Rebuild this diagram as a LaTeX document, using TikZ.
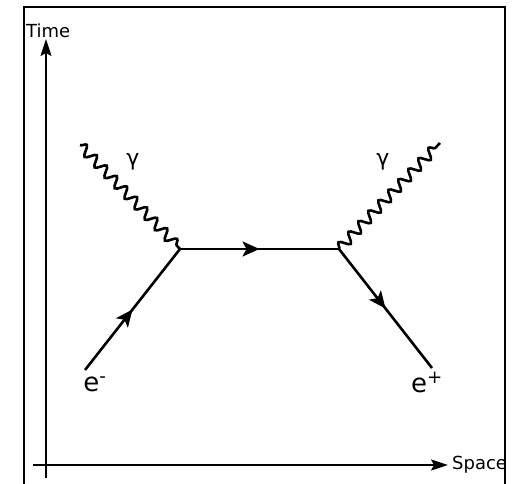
\documentclass[tikz,border=0pt]{standalone}
\usepackage{fontspec}
\setmainfont{DejaVu Sans}
\usetikzlibrary{decorations.pathmorphing,decorations.markings,arrows.meta}
\begin{document}
\begin{tikzpicture}[x=1pt,y=-1pt,
  frame/.style={line width=2.4pt},
  axis/.style={line width=1.7pt,-{Stealth[length=17pt,width=11pt,inset=3pt]}},
  fermion/.style={line width=2.6pt,postaction={decorate},
    decoration={markings,mark=at position 0.5 with {\arrow{Stealth[length=17pt,width=15pt,inset=4pt]}}}},
  photon/.style={line width=2.6pt,decorate,decoration={snake,segment length=14.5pt,amplitude=5pt}},
  lbl/.style={inner sep=0pt,font=\fontsize{18}{20}\selectfont},
  plbl/.style={inner sep=0pt,font=\fontsize{26}{28}\selectfont}]
\useasboundingbox (0,0) rectangle (515,484);
\draw[frame] (24,484) -- (24,7) -- (505,7) -- (505,484);
\coordinate (t0) at (46,478);
\coordinate (t1) at (46,39);
\coordinate (s0) at (33,465);
\coordinate (s1) at (448,465);
\draw[axis] (t0) -- (t1);
\draw[axis] (s0) -- (s1);
\node[lbl,anchor=west] (time) at (26,31) {Time};
\node[lbl,anchor=west] (space) at (452,465) {Space};
\coordinate (vl) at (180,249);
\coordinate (vr) at (339,249);
\coordinate (ein) at (85,370);
\coordinate (eout) at (432,368);
\coordinate (gl) at (80,145);
\coordinate (gr) at (440,143);
\draw[fermion] (ein) -- (vl);
\draw[fermion] (vl) -- (vr);
\draw[fermion] (vr) -- (eout);
\draw[photon] (gl) -- (vl);
\draw[photon] (vr) -- (gr);
\node[lbl,font=\fontsize{22}{24}\selectfont] (gaml) at (133,162) {γ};
\node[lbl,font=\fontsize{22}{24}\selectfont] (gamr) at (383,162) {γ};
\node[plbl] (em) at (95,384) {e\textsuperscript{-}};
\node[plbl] (ep) at (427,382) {e\textsuperscript{+}};
\end{tikzpicture}
\end{document}
